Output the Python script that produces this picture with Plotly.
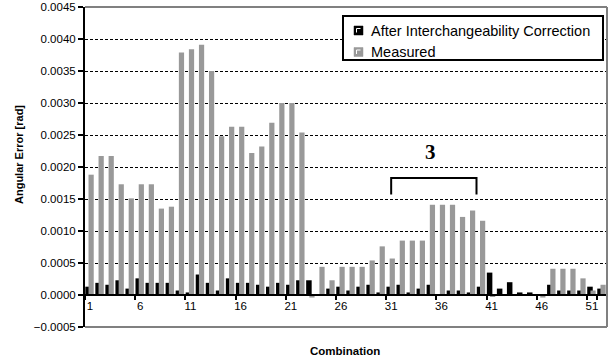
import plotly.graph_objects as go

combinations = [str(i) for i in range(1, 53)]

measured = [0.00188, 0.00217, 0.00217, 0.00173, 0.00151, 0.00173, 0.00173, 0.00135, 0.00138, 0.00379,
            0.00384, 0.00391, 0.00350, 0.00248, 0.00263, 0.00263, 0.00222, 0.00232, 0.00269, 0.00300,
            0.00300, 0.00254, -0.00004, 0.00044, 0.00023, 0.00044, 0.00044, 0.00044, 0.00054, 0.00076,
            0.00057, 0.00085, 0.00085, 0.00085, 0.00141, 0.00141, 0.00141, 0.00122, 0.00132, 0.00116,
            -0.00003, 0.0, 0.0, 0.0, 0.0, -0.00004, 0.00041, 0.00041, 0.00041, 0.00026,
            0.00007, 0.00016]

after_correction = [0.00013, 0.00019, 0.00016, 0.00023, 0.00010, 0.00026, 0.00019, 0.00019, 0.00019, 0.00007,
                    0.00004, 0.00032, 0.00019, 0.00007, 0.00026, 0.00019, 0.00019, 0.00016, 0.00013, 0.00019,
                    0.00016, 0.00023, 0.00023, 0.0, 0.00010, 0.00013, 0.00007, 0.00013, 0.00016, 0.00004,
                    0.00013, 0.00016, 0.00004, 0.00010, 0.00016, 0.0, 0.00007, 0.00007, 0.00004, 0.00013,
                    0.00035, 0.00010, 0.00020, 0.00004, 0.00004, 0.0, 0.00016, 0.00007, 0.00007, 0.00007,
                    0.00013, 0.00010]

series_names = ["After Interchangeability Correction", "Measured"]
series_colors = ["#000000", "#999999"]

tick_labels = [str(i) for i in range(1, 53, 5)]
y_min, y_max, y_step = -0.0005, 0.0045, 0.0005

# bracket annotation (group "3")
bracket_x = [30, 38.5]
bracket_y = [0.00157, 0.00183]
group_label = "3"

FONT = "Liberation Sans, Arial, sans-serif"

# plot area in pixels (for placing layout items)
PL, PR, PT, PB = 85, 607, 7, 327
W, H = 612, 362


def px(x):
    return (x - PL) / (PR - PL)


def py(y):
    return (PB - y) / (PB - PT)


fig = go.Figure()
fig.add_trace(go.Bar(x=combinations, y=after_correction, name=series_names[0],
                     marker=dict(color=series_colors[0], line=dict(width=0)), offset=-0.47, width=0.55))
fig.add_trace(go.Bar(x=combinations, y=measured, name=series_names[1],
                     marker=dict(color=series_colors[1], line=dict(width=0)), offset=-0.15, width=0.52))

zero_pos = (0 - y_min) / (y_max - y_min)

fig.update_layout(
    width=W, height=H,
    margin=dict(l=PL, r=W - PR, t=PT, b=H - PB, autoexpand=False),
    plot_bgcolor="white", paper_bgcolor="white",
    barmode="overlay",
    font=dict(family=FONT, color="black", size=11),
    showlegend=False,
)

fig.update_xaxes(type="category", tickmode="array", tickvals=tick_labels, ticktext=tick_labels,
                 tickson="boundaries", ticks="outside", ticklen=4, tickwidth=1.5, tickcolor="black",
                 showline=True, linecolor="black", linewidth=2, showgrid=False,
                 anchor="free", position=zero_pos, range=[-0.5, 51.5], tickangle=0,
                 automargin=False,
                 tickfont=dict(size=11.5, family=FONT, color="#000000"))

fig.update_yaxes(range=[y_min, y_max], tickmode="linear", tick0=y_min, dtick=y_step,
                 tickformat=".4f", ticks="outside", ticklen=5, tickwidth=1.5, tickcolor="black",
                 showline=True, linecolor="black", linewidth=2, automargin=False,
                 showgrid=True, gridcolor="black", gridwidth=1, griddash="3px,2px",
                 zeroline=False, tickfont=dict(size=11.5, family=FONT, color="#000000"))

# gray plot-area border (top, right, bottom)
for (x0, y0, x1, y1) in [(0, 1, 1, 1), (1, 0, 1, 1), (0, 0, 1, 0)]:
    fig.add_shape(type="line", xref="paper", yref="paper", x0=x0, y0=y0, x1=x1, y1=y1,
                  line=dict(color="#808080", width=2), layer="above")

# bracket
fig.add_shape(type="path", xref="x", yref="y",
              path=f"M {bracket_x[0]} {bracket_y[0]} L {bracket_x[0]} {bracket_y[1]} "
                   f"L {bracket_x[1]} {bracket_y[1]} L {bracket_x[1]} {bracket_y[0]}",
              line=dict(color="black", width=2))
fig.add_annotation(x=(bracket_x[0] + bracket_x[1]) / 2 - 0.3, y=0.00224, xref="x", yref="y",
                   text=f"<b>{group_label}</b>", showarrow=False,
                   font=dict(family="Liberation Serif, Times New Roman, serif", size=21, color="black"))

# legend (drawn manually to match the Excel-style box)
fig.add_shape(type="rect", xref="paper", yref="paper", x0=px(343), x1=px(603), y0=py(60), y1=py(16),
              line=dict(color="black", width=2), fillcolor="white", layer="above")
for i, (name, col) in enumerate(zip(series_names, series_colors)):
    yc = 30.5 + i * 21.5
    fig.add_shape(type="rect", xref="paper", yref="paper", x0=px(354), x1=px(363),
                  y0=py(yc + 4.5), y1=py(yc - 4.5), line=dict(color=col, width=0.5),
                  fillcolor=col, layer="above")
    fig.add_shape(type="path", xref="paper", yref="paper",
                  path=f"M {px(356.5)} {py(yc + 2)} L {px(356.5)} {py(yc - 2)} L {px(360.5)} {py(yc - 2)}",
                  line=dict(color="white", width=1), layer="above")
    fig.add_annotation(x=px(369), y=py(yc), xref="paper", yref="paper", xanchor="left", yanchor="middle",
                       text=name, showarrow=False, font=dict(size=14.5, family=FONT, color="black"))

# axis titles
fig.add_annotation(x=0, xref="paper", xshift=-66, xanchor="center", y=py(155), yref="paper",
                   yanchor="middle", textangle=-90,
                   text="<b>Angular Error [rad]</b>", showarrow=False,
                   font=dict(size=11, family=FONT, color="black"))
fig.add_annotation(x=px(345), xref="paper", xanchor="center", y=py(351), yref="paper", yanchor="middle",
                   text="<b>Combination</b>", showarrow=False,
                   font=dict(size=11.5, family=FONT, color="black"))

fig.write_html("out.html", config={"displayModeBar": False},
               post_script="document.body.style.margin='0';document.body.style.padding='0';")
